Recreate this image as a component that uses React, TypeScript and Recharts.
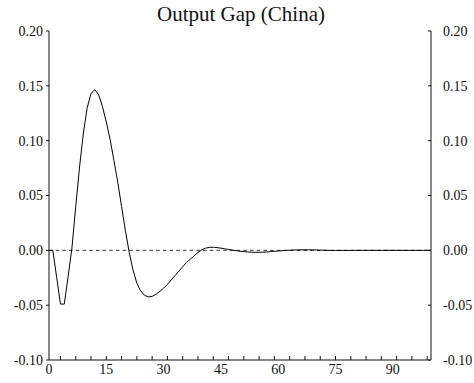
import React from "react";
import {
  LineChart,
  Line,
  XAxis,
  YAxis,
  ReferenceLine,
} from "recharts";

// impulse response of the output gap, one value per period
const gap = [
  0, 0, -0.0245, -0.049, -0.049, -0.024, 0.002, 0.04, 0.076, 0.107,
  0.13, 0.143, 0.1465, 0.142, 0.131, 0.117, 0.101, 0.082, 0.062, 0.04,
  0.018, -0.002, -0.018, -0.03, -0.037, -0.041, -0.0425, -0.042, -0.04, -0.0375,
  -0.0345, -0.031, -0.027, -0.023, -0.019, -0.015, -0.011, -0.008, -0.005, -0.002,
  0.0005, 0.002, 0.0027, 0.0028, 0.0025, 0.002, 0.0014, 0.0008, 0.0002, -0.0003,
  -0.0008, -0.0012, -0.0015, -0.0017, -0.0018, -0.0018, -0.0017, -0.0015, -0.0012, -0.0009,
  -0.0006, -0.0003, -0.0001, 0.0001, 0.0003, 0.0004, 0.0005, 0.0005, 0.0005, 0.0004,
  0.0003, 0.0002, 0.0001, 0, -0.0001, -0.0001, -0.0001, -0.0001, -0.0001, -0.0001,
  0, 0, 0, 0, 0, 0, 0, 0, 0, 0,
  0, 0, 0, 0, 0, 0, 0, 0, 0, 0,
  0,
];

const xLabels = [0, 15, 30, 45, 60, 75, 90];
const xMinor = [
  3, 7, 11, 15, 19, 23, 27, 31, 35, 39, 43, 47, 51, 55, 59, 63, 67, 71, 75,
  79, 83, 87, 91, 95, 99,
];
const yTicks = [-0.1, -0.05, 0, 0.05, 0.1, 0.15, 0.2];

const data = gap.map((v, i) => ({ t: i, gap: v }));
const xTicks = Array.from(new Set([...xLabels, ...xMinor])).sort((a, b) => a - b);

const FONT = "'Liberation Serif', 'Times New Roman', serif";
const INK = "#111";

const BottomTick = (props: any) => {
  const { x, y, payload } = props;
  const v = payload.value;
  return (
    <g>
      {xMinor.includes(v) && (
        <line x1={x} x2={x} y1={y} y2={y - 4} stroke={INK} strokeWidth={1} />
      )}
      {xLabels.includes(v) && (
        <text x={x} y={y + 14} textAnchor="middle" fontFamily={FONT} fontSize={14} fill={INK}>
          {v}
        </text>
      )}
    </g>
  );
};

const LeftTick = (props: any) => {
  const { x, y, payload } = props;
  return (
    <g>
      <line x1={x} x2={x - 3} y1={y} y2={y} stroke={INK} strokeWidth={1} />
      <text x={x - 6} y={y} dy="0.35em" textAnchor="end" fontFamily={FONT} fontSize={14} fill={INK}>
        {payload.value.toFixed(2)}
      </text>
    </g>
  );
};

const RightTick = (props: any) => {
  const { x, y, payload } = props;
  return (
    <g>
      <line x1={x} x2={x - 3} y1={y} y2={y} stroke={INK} strokeWidth={1} />
      <text x={x + 12} y={y} dy="0.35em" textAnchor="start" fontFamily={FONT} fontSize={14} fill={INK}>
        {payload.value.toFixed(2)}
      </text>
    </g>
  );
};

export default function App() {
  return (
    <div style={{ position: "fixed", left: 0, top: 0, width: 474, height: 383, background: "#fff" }}>
      <LineChart
        width={474}
        height={383}
        data={data}
        margin={{ top: 31, right: 0, bottom: 0, left: 0 }}
      >
        <XAxis
          dataKey="t"
          type="number"
          domain={[0, 100]}
          ticks={xTicks}
          interval={0}
          height={23}
          tickSize={0}
          tickMargin={0}
          tickLine={false}
          axisLine={{ stroke: INK }}
          tick={<BottomTick />}
        />
        <YAxis
          yAxisId="left"
          orientation="left"
          type="number"
          domain={[-0.1, 0.2]}
          allowDataOverflow
          ticks={yTicks}
          interval={0}
          width={49}
          tickSize={0}
          tickMargin={0}
          tickLine={false}
          axisLine={{ stroke: INK }}
          tick={<LeftTick />}
        />
        <YAxis
          yAxisId="right"
          orientation="right"
          type="number"
          domain={[-0.1, 0.2]}
          allowDataOverflow
          ticks={yTicks}
          interval={0}
          width={43}
          tickSize={0}
          tickMargin={0}
          tickLine={false}
          axisLine={{ stroke: INK }}
          tick={<RightTick />}
        />
        <ReferenceLine yAxisId="left" y={0} stroke="#333" strokeDasharray="3.5 3.2" />
        <Line
          yAxisId="left"
          dataKey="gap"
          type="linear"
          stroke="#000"
          strokeWidth={1}
          dot={false}
          isAnimationActive={false}
        />
      </LineChart>
      <svg width={474} height={40} style={{ position: "absolute", left: 0, top: 0 }}>
        <text x={241} y={21} textAnchor="middle" fontFamily={FONT} fontSize={21} fill={INK}>
          Output Gap (China)
        </text>
      </svg>
    </div>
  );
}
